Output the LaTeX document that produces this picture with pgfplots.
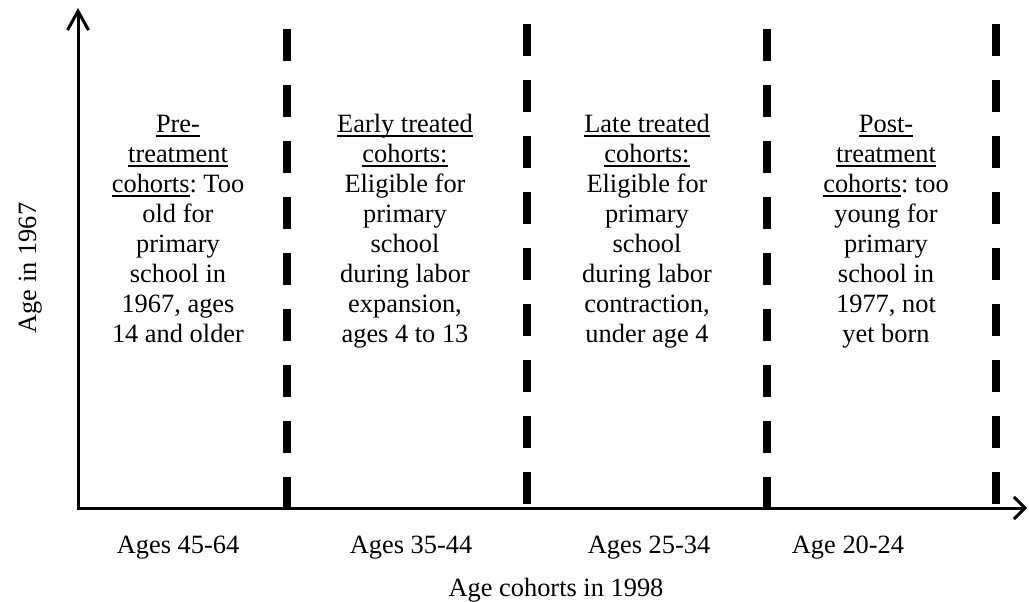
\documentclass[border=0pt]{standalone}
\usepackage{pgfplots}
\pgfplotsset{compat=1.18}
\usetikzlibrary{arrows.meta}
\usepackage{fontspec}
\setmainfont{Liberation Serif}
\frenchspacing
\newcommand\ul[1]{\leavevmode\setbox0\hbox{#1}\rlap{\rule[-4.4bp]{\wd0}{1.7bp}}\box0}
\newcommand\tfont{\fontsize{26.4bp}{30bp}\selectfont\frenchspacing}
\newcommand\topstrut{\rule{0pt}{20bp}}
\begin{document}
\begin{tikzpicture}
\begin{axis}[scale only axis, width=1029bp, height=602bp,
  xmin=0, xmax=1029, ymin=0, ymax=602, y dir=reverse,
  hide axis, clip=false]
\addplot[draw=none] coordinates {(0,0) (1029,602)};
% axes
\addplot[line width=3bp, -{Straight Barb[length=11bp,width=22bp,line width=3bp]}] coordinates {(76.5,508) (1027,508)};
\addplot[line width=3bp, -{Straight Barb[length=19bp,width=21bp,line width=3bp]}] coordinates {(78,509.5) (78,8)};
% dashed separators
\addplot[line width=8bp, dash pattern=on 32bp off 24bp] coordinates {(287,29) (287,508)};
\addplot[line width=8bp, dash pattern=on 32bp off 24bp] coordinates {(527,24) (527,508)};
\addplot[line width=8bp, dash pattern=on 32bp off 24bp] coordinates {(767,29) (767,508)};
\addplot[line width=8bp, dash pattern=on 32bp off 24bp] coordinates {(996,24) (996,508)};
% block texts
\node[anchor=north, align=center, font=\tfont, inner sep=0pt] at (axis cs:178,112)
  {\topstrut\ul{Pre-}\\\ul{treatment}\\\ul{cohorts}: Too\\old for\\primary\\school in\\1967, ages\\14 and older};
\node[anchor=north, align=center, font=\tfont, inner sep=0pt] at (axis cs:405,112)
  {\topstrut\ul{Early treated}\\\ul{cohorts:}\\Eligible for\\primary\\school\\during labor\\expansion,\\ages 4 to 13};
\node[anchor=north, align=center, font=\tfont, inner sep=0pt] at (axis cs:647,112)
  {\topstrut\ul{Late treated}\\\ul{cohorts:}\\Eligible for\\primary\\school\\during labor\\contraction,\\under age 4};
\node[anchor=north, align=center, font=\tfont, inner sep=0pt] at (axis cs:886,112)
  {\topstrut\ul{Post-}\\\ul{treatment}\\\ul{cohorts}: too\\young for\\primary\\school in\\1977, not\\yet born};
% category labels
\node[anchor=base, font=\tfont, inner sep=0pt] at (axis cs:178,553) {Ages 45-64};
\node[anchor=base, font=\tfont, inner sep=0pt] at (axis cs:411,553) {Ages 35-44};
\node[anchor=base, font=\tfont, inner sep=0pt] at (axis cs:649,553) {Ages 25-34};
\node[anchor=base, font=\tfont, inner sep=0pt] at (axis cs:848,553) {Age 20-24};
% axis labels
\node[anchor=base, font=\tfont, inner sep=0pt] at (axis cs:556,596) {Age cohorts in 1998};
\node[anchor=base, rotate=90, font=\tfont, inner sep=0pt] at (axis cs:36,268) {Age in 1967};
\end{axis}
\end{tikzpicture}
\end{document}
